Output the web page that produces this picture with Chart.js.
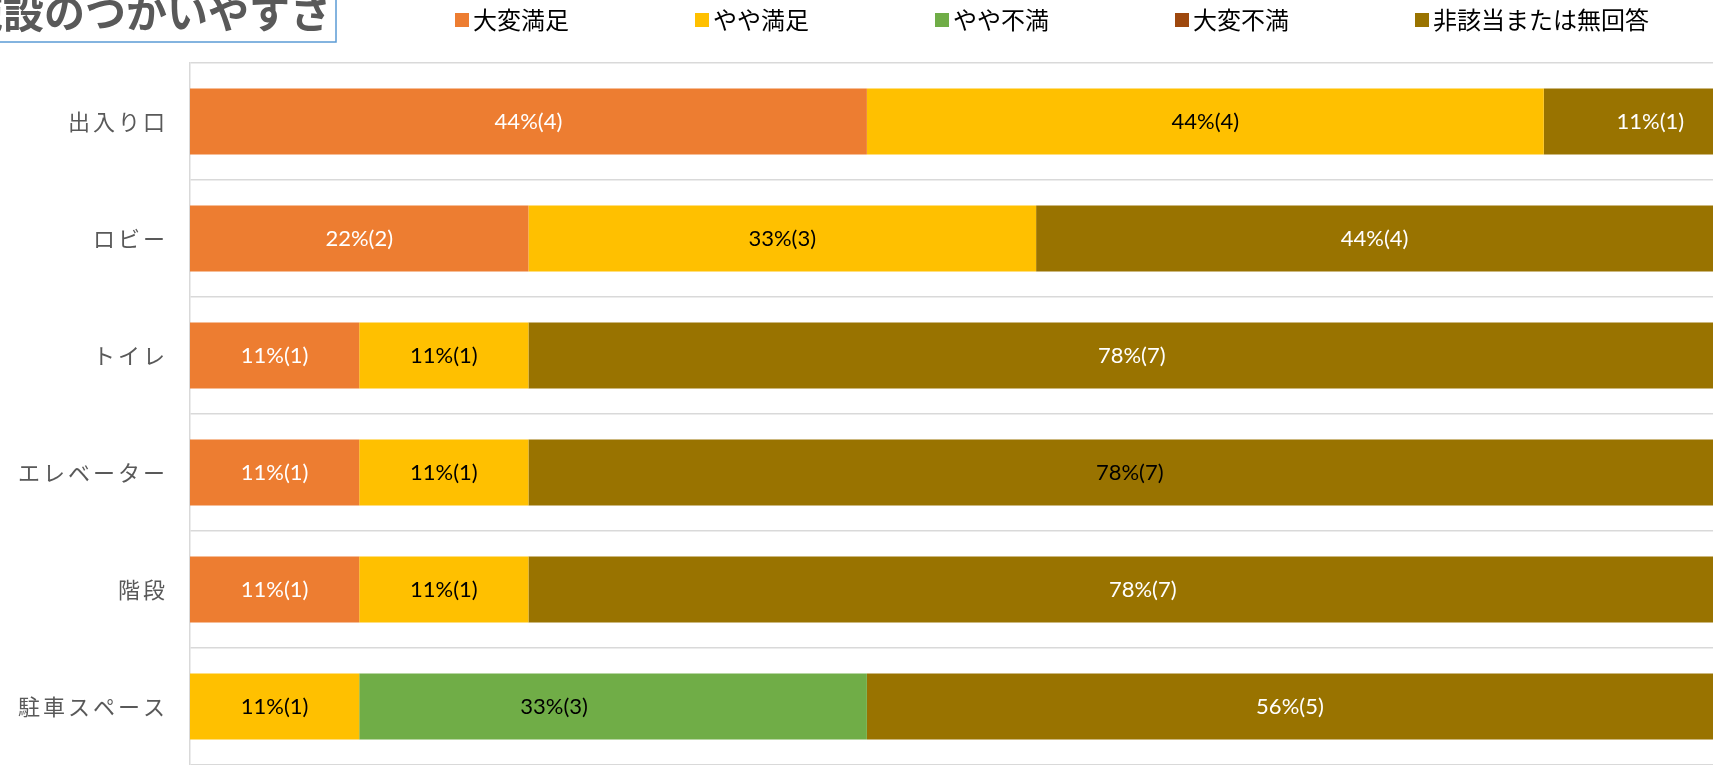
<!DOCTYPE html>
<html lang="ja">
<head>
<meta charset="utf-8">
<title>施設のつかいやすさ</title>
<script src="https://cdn.jsdelivr.net/npm/chart.js@4/dist/chart.umd.min.js"></script>
<style>
  html, body { margin: 0; padding: 0; background: #fff; }
  #wrap { width: 1720px; height: 765px; position: relative; }
</style>
</head>
<body>
<div id="wrap"><canvas id="usabilityChart"></canvas></div>
<script>
// 施設のつかいやすさ (counts, n = 9 per row)
const categories = ['出入り口', 'ロビー', 'トイレ', 'エレベーター', '階段', '駐車スペース'];
const seriesNames = ['大変満足', 'やや満足', 'やや不満', '大変不満', '非該当または無回答'];

const veryGood = [4, 2, 1, 1, 1, 0];
const good     = [4, 3, 1, 1, 1, 1];
const bad      = [0, 0, 0, 0, 0, 3];
const veryBad  = [0, 0, 0, 0, 0, 0];
const noAnswer = [1, 4, 7, 7, 7, 5];

const colors = ['#ED7D31', '#FFC000', '#70AD47', '#9E480E', '#997300'];
const labelColors = ['#fff', '#000', '#000', '#fff', '#fff'];

// a few labels were dragged by hand in the original ("dataset,row": px)
const labelNudge = { '4,0': 22, '4,2': 11, '4,3': 9, '4,4': 22, '2,5': -59 };

const rowTotals = categories.map((_, i) =>
  veryGood[i] + good[i] + bad[i] + veryBad[i] + noAnswer[i]);

const cjk = '"Noto Sans CJK JP", "Noto Sans", sans-serif';

// title box, legend and value labels
const decorations = {
  id: 'decorations',
  beforeDraw(chart) {
    // spaced-out category labels like the original
    chart.ctx.letterSpacing = '3px';
  },
  afterDatasetsDraw(chart) {
    const ctx = chart.ctx;
    ctx.save();
    ctx.letterSpacing = '0px';
    ctx.font = '22px Lato, "Noto Sans", sans-serif';
    ctx.textAlign = 'center';
    ctx.textBaseline = 'middle';
    chart.data.datasets.forEach((ds, i) => {
      const meta = chart.getDatasetMeta(i);
      meta.data.forEach((bar, j) => {
        const v = ds.data[j];
        if (!v) return;
        const pct = Math.round(v / rowTotals[j] * 100);
        const c = bar.getCenterPoint();
        // one label in the original is dark on the brown bar
        ctx.fillStyle = (i === 4 && j === 3) ? '#000' : labelColors[i];
        ctx.fillText(pct + '%(' + v + ')', c.x + (labelNudge[i + ',' + j] || 0), c.y);
      });
    });
    ctx.restore();
  },
  afterDraw(chart) {
    const ctx = chart.ctx;
    ctx.save();
    ctx.letterSpacing = '0px';

    // title box (cut off at the top-left like the source)
    ctx.fillStyle = '#fff';
    ctx.fillRect(-10, -10, 346, 52);
    ctx.strokeStyle = '#5B9BD5';
    ctx.lineWidth = 1.5;
    ctx.strokeRect(-10, -10, 346, 52);
    ctx.fillStyle = '#595959';
    ctx.font = 'bold 41px ' + cjk;
    ctx.textAlign = 'right';
    ctx.textBaseline = 'alphabetic';
    ctx.fillText('施設のつかいやすさ', 331, 28);

    // legend, evenly spaced
    ctx.font = '24px ' + cjk;
    ctx.textAlign = 'left';
    ctx.textBaseline = 'middle';
    chart.data.datasets.forEach((ds, i) => {
      const x = 455 + i * 240;
      ctx.fillStyle = ds.backgroundColor;
      ctx.fillRect(x, 13, 14, 14);
      ctx.fillStyle = '#000';
      ctx.fillText(ds.label, x + 18, 20);
    });
    ctx.restore();
  }
};

const ctx = document.getElementById('usabilityChart').getContext('2d');
new Chart(ctx, {
  type: 'bar',
  data: {
    labels: categories,
    datasets: [veryGood, good, bad, veryBad, noAnswer].map((d, i) => ({
      label: seriesNames[i],
      data: d,
      backgroundColor: colors[i],
      borderWidth: 0,
      barPercentage: 1,
      categoryPercentage: 0.565
    }))
  },
  options: {
    indexAxis: 'y',
    responsive: true,
    maintainAspectRatio: false,
    animation: false,
    layout: { padding: { top: 63, right: 7, bottom: 0, left: 0 } },
    plugins: {
      legend: { display: false },
      tooltip: { enabled: false }
    },
    scales: {
      x: {
        stacked: true,
        min: 0,
        max: 9,
        display: false
      },
      y: {
        stacked: true,
        afterFit(scale) {
          scale.width = 190;
          scale.paddingTop = 0;
          scale.paddingBottom = 0;
        },
        grid: {
          offset: true,
          color: '#D9D9D9',
          lineWidth: 1.5,
          drawTicks: false
        },
        border: { color: '#D9D9D9', width: 1.5 },
        ticks: {
          color: '#595959',
          font: { size: 22, family: cjk },
          padding: 22
        }
      }
    }
  },
  plugins: [decorations]
});
</script>
</body>
</html>
